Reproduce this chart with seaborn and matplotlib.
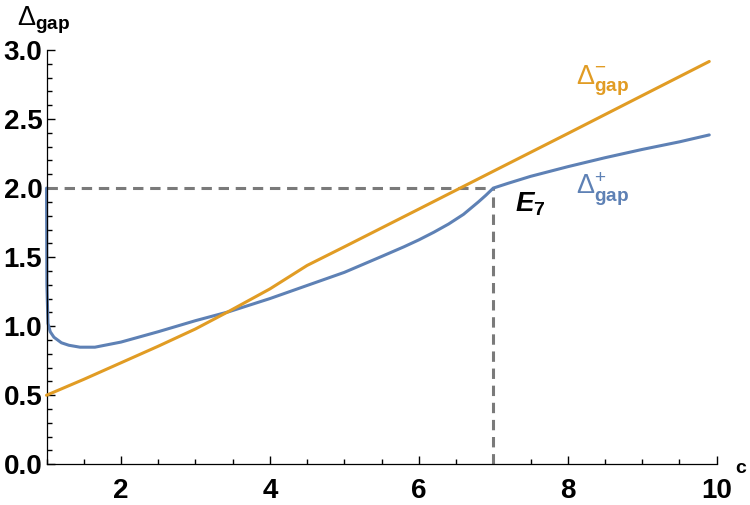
import numpy as np
import pandas as pd
import matplotlib
matplotlib.use('Agg')
import matplotlib.pyplot as plt
from matplotlib.ticker import MultipleLocator
import seaborn as sns

# 曲线数据
c_plus = [1.0, 1.005, 1.02, 1.05, 1.1, 1.2, 1.3, 1.45, 1.65, 2.0, 2.5, 3.0, 3.45, 4.0,
          4.5, 5.0, 5.5, 5.8, 6.0, 6.2, 6.4, 6.6, 6.8, 6.9, 7.0, 7.2, 7.5, 8.0, 8.5, 9.0, 9.5, 9.9]
gap_plus = [2.0, 1.3, 1.02, 0.96, 0.92, 0.88, 0.862, 0.848, 0.848, 0.885, 0.96, 1.04, 1.105, 1.2,
            1.295, 1.39, 1.505, 1.575, 1.625, 1.68, 1.74, 1.81, 1.9, 1.948, 2.0, 2.035, 2.085,
            2.155, 2.22, 2.28, 2.335, 2.385]

c_minus = [1.0, 1.5, 2.0, 2.5, 3.0, 3.44, 4.0, 4.5, 5.0, 6.0, 7.0, 8.0, 9.0, 9.9]
gap_minus = [0.5, 0.615, 0.735, 0.855, 0.98, 1.105, 1.27, 1.44, 1.575, 1.848, 2.122, 2.395, 2.67, 2.917]

# E7 参考点
e7_c = 7.0
e7_gap = 2.0

y_ticks = [0.0, 0.5, 1.0, 1.5, 2.0, 2.5, 3.0]
x_ticks = [2, 4, 6, 8, 10]

blue = '#5E81B5'
orange = '#E19C24'

sns.set_theme(style='ticks')
plt.rcParams['font.family'] = ['Liberation Sans', 'DejaVu Sans']
plt.rcParams['text.color'] = 'black'
plt.rcParams['mathtext.fontset'] = 'custom'
plt.rcParams['mathtext.rm'] = 'Liberation Sans'
plt.rcParams['mathtext.it'] = 'Liberation Sans:italic'
plt.rcParams['mathtext.bf'] = 'Liberation Sans:bold'
plt.rcParams['mathtext.bfit'] = 'Liberation Sans:italic:bold'

W, H = 750, 505
fig = plt.figure(figsize=(7.5, 5.05), dpi=100)
ax = fig.add_axes([46.5 / W, 40.7 / H, 670.2 / W, 414.3 / H])

df_plus = pd.DataFrame({'c': c_plus, 'gap': gap_plus})
df_minus = pd.DataFrame({'c': c_minus, 'gap': gap_minus})

# 虚线
ax.plot([1, e7_c], [e7_gap, e7_gap], color='#7a7a7a', lw=2.2, dashes=(3.4, 2.2), zorder=1, clip_on=False)
ax.plot([e7_c, e7_c], [0, e7_gap], color='#7a7a7a', lw=2.2, dashes=(3.4, 2.2), zorder=1, clip_on=False)

sns.lineplot(data=df_minus, x='c', y='gap', color=orange, lw=2.2, estimator=None,
             sort=False, ax=ax, zorder=3)
sns.lineplot(data=df_plus, x='c', y='gap', color=blue, lw=2.2, estimator=None,
             sort=False, ax=ax, zorder=2)
for ln in ax.lines:
    ln.set_clip_on(False)
    ln.set_solid_joinstyle('round')

ax.set_xlim(1, 10)
ax.set_ylim(0, 3)
ax.set_xlabel('')
ax.set_ylabel('')

for s in ['top', 'right']:
    ax.spines[s].set_visible(False)
for s in ['left', 'bottom']:
    ax.spines[s].set_color('black')
    ax.spines[s].set_linewidth(0.9)

ax.set_xticks(x_ticks)
ax.set_yticks(y_ticks)
ax.set_yticklabels([f'{v:.1f}' for v in y_ticks])
ax.xaxis.set_minor_locator(MultipleLocator(0.5))
ax.yaxis.set_minor_locator(MultipleLocator(0.1))
ax.tick_params(which='both', bottom=True, left=True, direction='in')
ax.tick_params(which='major', length=5.8, width=1.0, color='black', labelsize=20,
               labelcolor='black')
ax.tick_params(which='minor', length=3.3, width=1.0, color='black')
ax.tick_params(axis='x', which='major', pad=10)
ax.tick_params(axis='y', which='major', pad=3)
for lab in ax.get_xticklabels() + ax.get_yticklabels():
    lab.set_fontweight('bold')

def px(x, y):
    return x / W, 1 - y / H

# 轴标签和曲线标注
fig.text(*px(17, 25), r'$\Delta_{\mathbf{gap}}$', fontsize=19.5, color='black',
         ha='left', va='baseline')
fig.text(*px(735, 473), 'c', fontsize=14, fontweight='bold', color='black',
         ha='left', va='baseline')
fig.text(*px(576, 85), r'$\Delta^{-}_{\mathbf{gap}}$', fontsize=19.5, color=orange,
         ha='left', va='baseline')
fig.text(*px(576, 195), r'$\Delta^{+}_{\mathbf{gap}}$', fontsize=19.5, color=blue,
         ha='left', va='baseline')
fig.text(*px(515, 212), r'$\mathbfit{E}_{\mathbf{7}}$', fontsize=20, color='black',
         ha='left', va='baseline')

plt.savefig('out.png', dpi=100)
